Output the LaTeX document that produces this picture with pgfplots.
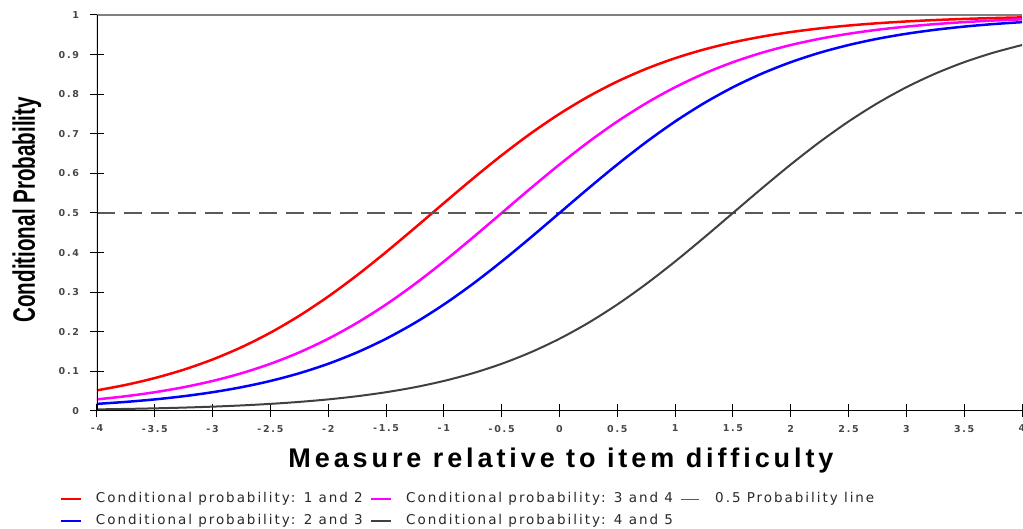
\documentclass[border=0pt]{standalone}
\usepackage{fontspec}
\usepackage{graphicx}
\usepackage{pgfplots}
\pgfplotsset{compat=1.18}
\setmainfont{DejaVu Sans}
\newfontfamily\tickfont{DejaVu Sans}[LetterSpace=18]
\newfontfamily\legfont{DejaVu Sans}[LetterSpace=14.5]
\newfontfamily\xlabfont{Liberation Sans}[LetterSpace=14.5]
\newfontfamily\ylabfont{Liberation Sans}
\definecolor{cred}{RGB}{255,0,0}
\definecolor{cmag}{RGB}{255,0,255}
\definecolor{cblue}{RGB}{0,0,255}
\definecolor{cgray}{RGB}{64,64,64}
\definecolor{cdash}{RGB}{90,90,90}
\definecolor{ctick}{RGB}{70,70,70}
\definecolor{cleg}{RGB}{40,40,40}
\begin{document}
\begin{tikzpicture}[x=1pt,y=1pt]
\useasboundingbox (0,0) rectangle (1023,529);
\begin{axis}[
  at={(97pt,118pt)}, anchor=south west,
  scale only axis, width=925pt, height=396pt,
  xmin=-4, xmax=4, ymin=0, ymax=1,
  xtick={-4,-3.5,-3,-2.5,-2,-1.5,-1,-0.5,0,0.5,1,1.5,2,2.5,3,3.5,4},
  ytick={0,0.1,0.2,0.3,0.4,0.5,0.6,0.7,0.8,0.9,1},
  xtick pos=bottom, ytick pos=left,
  tick align=center, major tick length=13pt,
  tick style={black, line width=1pt},
  axis line style={draw=none},
  /pgf/number format/assume math mode=true,
  xticklabel style={font=\tickfont\bfseries\fontsize{9.5}{11}\selectfont, text=ctick, yshift=-4pt},
  yticklabel style={font=\tickfont\bfseries\fontsize{9.5}{11}\selectfont, text=ctick, xshift=-8pt},
  xlabel={Measure relative to item difficulty},
  xlabel style={font=\xlabfont\bfseries\fontsize{27}{30}\selectfont, at={(axis description cs:0.5016,-0.124)}, anchor=center},
  ylabel={\scalebox{0.665}[1]{\ylabfont\bfseries\fontsize{31}{34}\selectfont Conditional Probability}},
  ylabel style={at={(axis description cs:-0.0757,0.508)}, anchor=center},
  legend columns=3,
  legend cell align=left,
  legend image code/.code={\draw[#1] (0pt,0pt) -- (20pt,0pt);},
  legend style={at={(axis description cs:-0.044,-0.202)}, anchor=north west, draw=none, fill=none,
    font=\legfont\fontsize{13.5}{15}\selectfont, text=cleg,
    nodes={inner sep=0pt, text height=9.5pt, text depth=2.5pt},
    row sep=10pt, column sep=0pt,
    /tikz/every odd column/.append style={column sep=14pt},
    /tikz/every even column/.append style={column sep=7pt}},
]
% red: 1 and 2
\addplot[cred, line width=2.5pt, smooth] coordinates {
(-4,0.05215) (-3.75,0.06599) (-3.5,0.08317) (-3.25,0.10433) (-3,0.13011) (-2.75,0.16111)
(-2.5,0.19782) (-2.25,0.24048) (-2,0.28905) (-1.75,0.34299) (-1.5,0.40131) (-1.25,0.46257)
(-1,0.52498) (-0.75,0.58662) (-0.5,0.64566) (-0.25,0.70057) (0,0.75026) (0.25,0.79413)
(0.5,0.83202) (0.75,0.86413) (1,0.89090) (1.25,0.91293) (1.5,0.93086) (1.75,0.94532)
(2,0.95689) (2.25,0.96611) (2.5,0.97340) (2.75,0.97916) (3,0.98370) (3.25,0.98726)
(3.5,0.99005) (3.75,0.99223) (4,0.99394)};
\addlegendentry{Conditional probability: 1 and 2}
% magenta: 3 and 4
\addplot[cmag, line width=2.5pt, smooth] coordinates {
(-4,0.02931) (-3.75,0.03733) (-3.5,0.04743) (-3.25,0.06008) (-3,0.07586) (-2.75,0.09535)
(-2.5,0.11920) (-2.25,0.14805) (-2,0.18243) (-1.75,0.22270) (-1.5,0.26894) (-1.25,0.32082)
(-1,0.37754) (-0.75,0.43782) (-0.5,0.5) (-0.25,0.56218) (0,0.62246) (0.25,0.67918)
(0.5,0.73106) (0.75,0.77730) (1,0.81757) (1.25,0.85195) (1.5,0.88080) (1.75,0.90465)
(2,0.92414) (2.25,0.93992) (2.5,0.95257) (2.75,0.96267) (3,0.97069) (3.25,0.97702)
(3.5,0.98201) (3.75,0.98594) (4,0.98901)};
\addlegendentry{Conditional probability: 3 and 4}
% 0.5 line
\addplot[cdash, line width=1.3pt, dash pattern=on 18pt off 9pt] coordinates {(-4,0.5) (4,0.5)};
\addlegendentry{0.5 Probability line}
% blue: 2 and 3
\addplot[cblue, line width=2.5pt, smooth] coordinates {
(-4,0.01799) (-3.75,0.02298) (-3.5,0.02931) (-3.25,0.03733) (-3,0.04743) (-2.75,0.06008)
(-2.5,0.07586) (-2.25,0.09535) (-2,0.11920) (-1.75,0.14805) (-1.5,0.18243) (-1.25,0.22270)
(-1,0.26894) (-0.75,0.32082) (-0.5,0.37754) (-0.25,0.43782) (0,0.5) (0.25,0.56218)
(0.5,0.62246) (0.75,0.67918) (1,0.73106) (1.25,0.77730) (1.5,0.81757) (1.75,0.85195)
(2,0.88080) (2.25,0.90465) (2.5,0.92414) (2.75,0.93992) (3,0.95257) (3.25,0.96267)
(3.5,0.97069) (3.75,0.97702) (4,0.98201)};
\addlegendentry{Conditional probability: 2 and 3}
% gray: 4 and 5
\addplot[cgray, line width=2pt, smooth] coordinates {
(-4,0.00407) (-3.75,0.00522) (-3.5,0.00669) (-3.25,0.00858) (-3,0.01099) (-2.75,0.01406)
(-2.5,0.01799) (-2.25,0.02298) (-2,0.02931) (-1.75,0.03733) (-1.5,0.04743) (-1.25,0.06008)
(-1,0.07586) (-0.75,0.09535) (-0.5,0.11920) (-0.25,0.14805) (0,0.18243) (0.25,0.22270)
(0.5,0.26894) (0.75,0.32082) (1,0.37754) (1.25,0.43782) (1.5,0.5) (1.75,0.56218)
(2,0.62246) (2.25,0.67918) (2.5,0.73106) (2.75,0.77730) (3,0.81757) (3.25,0.85195)
(3.5,0.88080) (3.75,0.90465) (4,0.92414)};
\addlegendentry{Conditional probability: 4 and 5}
% axis lines
\draw[gray, line width=2pt] (rel axis cs:0,1) -- (rel axis cs:1,1);
\draw[black, line width=1.5pt] (rel axis cs:0,0) -- (rel axis cs:1,0);
\draw[black, line width=1.5pt] (rel axis cs:0,0) -- (rel axis cs:0,1);
\end{axis}
\end{tikzpicture}
\end{document}
